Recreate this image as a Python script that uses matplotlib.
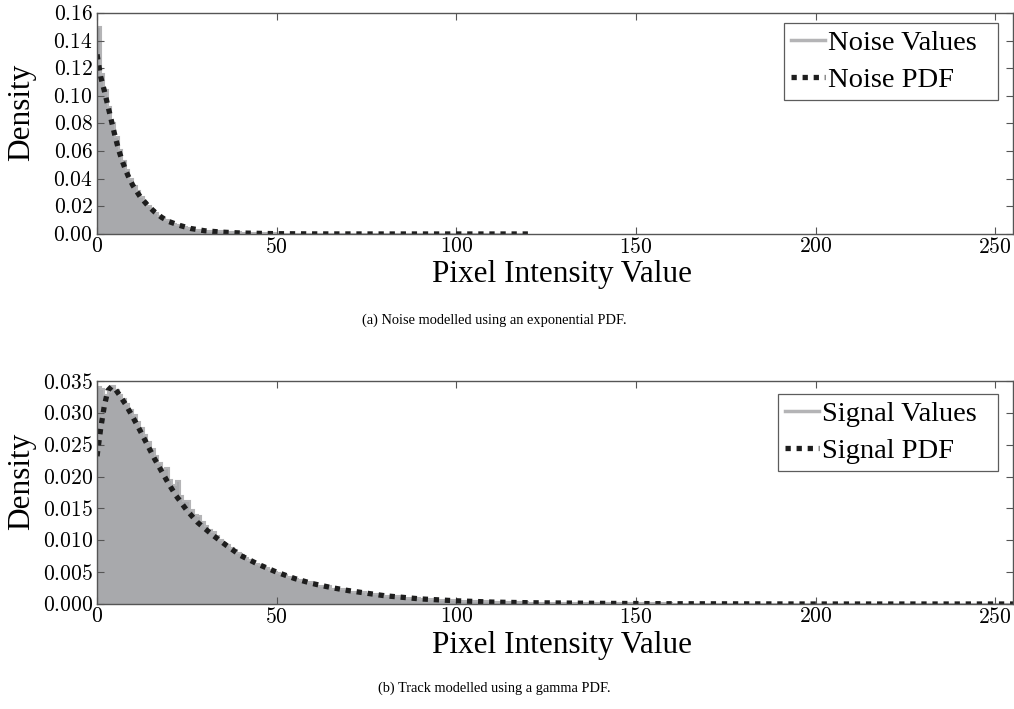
import numpy as np
import matplotlib
matplotlib.use("Agg")
from matplotlib import pyplot as plt
from matplotlib.lines import Line2D

# ---- noise (exponential) ----
noise_edges = [0, 1, 2, 3, 4, 5, 6, 7, 8, 9, 10, 11, 12, 13, 14, 15, 16, 17, 18, 19,
               20, 21, 22, 23, 24, 25, 26, 27, 28, 29, 30, 35, 40, 50, 60, 80, 120]
noise_hist = [0.150, 0.116, 0.104, 0.092, 0.080, 0.070, 0.061, 0.053, 0.046, 0.040,
              0.035, 0.031, 0.027, 0.023, 0.020, 0.0175, 0.015, 0.013, 0.0113, 0.0098,
              0.0085, 0.0075, 0.0065, 0.0057, 0.0050, 0.0043, 0.0037, 0.0032, 0.0028, 0.0024,
              0.0018, 0.0011, 0.0005, 0.0002, 0.00006, 0.00001]
noise_pdf_x = [0, 1, 2, 3, 4, 5, 6, 7, 8, 9, 10, 12, 14, 16, 18, 20, 23, 26, 30, 35,
               40, 50, 60, 80, 100, 120]
noise_pdf_y = [0.130, 0.114, 0.104, 0.093, 0.082, 0.071, 0.061, 0.053, 0.046, 0.040,
               0.035, 0.027, 0.021, 0.016, 0.012, 0.0090, 0.0062, 0.0040, 0.0023, 0.0013,
               0.0007, 0.0002, 0.00005, 0.0, 0.0, 0.0]

# ---- signal (gamma) ----
signal_edges = list(range(0, 61)) + [65, 70, 75, 80, 85, 90, 95, 100, 110, 120, 140, 160, 200, 255]
signal_hist = [0.0340, 0.0338, 0.0328, 0.0332, 0.0342, 0.0336, 0.0328, 0.0322, 0.0314, 0.0305,
               0.0296, 0.0286, 0.0276, 0.0265, 0.0254, 0.0243, 0.0233, 0.0222, 0.0212, 0.0214,
               0.0195, 0.0186, 0.0193, 0.0170, 0.0162, 0.0161, 0.0148, 0.0140, 0.0138, 0.0128,
               0.0122, 0.0116, 0.0113, 0.0106, 0.0101, 0.0096, 0.0093, 0.0088, 0.0084, 0.0080,
               0.0077, 0.0072, 0.0069, 0.0066, 0.0063, 0.0061, 0.0058, 0.0056, 0.0054, 0.0051,
               0.0049, 0.0047, 0.0045, 0.0043, 0.0041, 0.0040, 0.0038, 0.0036, 0.0035, 0.0034,
               0.0029, 0.0023, 0.0019, 0.0015, 0.0012, 0.0010, 0.0008, 0.0006,
               0.0004, 0.0003, 0.00015, 0.00008, 0.00003, 0.00001]
signal_pdf_x = [0, 1, 2, 3, 4, 5, 6, 8, 10, 12, 14, 16, 18, 20, 22, 25, 28, 32, 36, 40,
                45, 50, 55, 60, 65, 70, 75, 80, 90, 100, 110, 120, 140, 160, 200, 255]
signal_pdf_y = [0.0232, 0.0275, 0.0310, 0.0335, 0.0341, 0.0338, 0.0330, 0.0313, 0.0293, 0.0272,
                0.0250, 0.0228, 0.0208, 0.0188, 0.0170, 0.0147, 0.0128, 0.0109, 0.0092, 0.0076,
                0.0062, 0.0050, 0.0040, 0.0032, 0.0026, 0.0021, 0.0017, 0.0013, 0.0008, 0.0005,
                0.0003, 0.0002, 0.0001, 0.00004, 0.0, 0.0]

plt.rcParams['font.family'] = ['Liberation Serif', 'DejaVu Serif']
plt.rcParams['mathtext.fontset'] = 'cm'

fig = plt.figure(figsize=(10.14, 7.09), dpi=100)
ax1 = fig.add_axes([0.0957, 0.6700, 0.9034, 0.3117])
ax2 = fig.add_axes([0.0957, 0.1481, 0.9034, 0.3145])

hist_fill = '#a8a9ac'
hist_line = '#b4b4b6'
pdf_col = '#1e1e1e'
dots = (0, (1, 1.1))


def draw_panel(ax, edges, hist, px, py, ymax, yticks, fmt, names, leg_y):
    ax.stairs(hist, edges, fill=True, color=hist_fill, linewidth=0)
    ax.stairs(hist, edges, fill=False, color=hist_line, linewidth=1.5)
    ax.plot(px, py, color=pdf_col, linewidth=3.8, linestyle=dots, dash_capstyle='butt')
    ax.set_xlim(0, 255)
    ax.set_ylim(0, ymax)
    xt = [0, 50, 100, 150, 200, 250]
    ax.set_xticks(xt, ['$%d$' % t for t in xt])
    ax.set_yticks(yticks, ['$' + fmt % t + '$' for t in yticks])
    ax.tick_params(direction='in', top=True, right=True, length=5, width=0.8,
                   color='#555555', labelsize=15.5, pad=3)
    for sp in ax.spines.values():
        sp.set_color('#555555')
        sp.set_linewidth(1.0)
    ax.set_xlabel('Pixel Intensity Value', fontsize=22.5)
    ax.xaxis.set_label_coords(0.508, -0.12)
    ax.xaxis.label.set_va('top')
    ax.set_ylabel('Density', fontsize=22.5)
    ax.yaxis.set_label_coords(-0.066, 0.55)
    handles = [Line2D([], [], color=hist_line, linewidth=2.5),
               Line2D([], [], color=pdf_col, linewidth=3.8, linestyle=dots,
                      dash_capstyle='butt')]
    leg = ax.legend(handles, [n + '\u2002' for n in names], loc='upper right',
                    bbox_to_anchor=(0.9835, leg_y), fontsize=20.5, frameon=True,
                    fancybox=False, handlelength=1.2, handletextpad=0.1,
                    borderpad=0.25, labelspacing=0.4, borderaxespad=0.0)
    leg.get_frame().set_edgecolor('#333333')
    leg.get_frame().set_linewidth(0.9)


draw_panel(ax1, noise_edges, noise_hist, noise_pdf_x, noise_pdf_y, 0.16,
           [0.00, 0.02, 0.04, 0.06, 0.08, 0.10, 0.12, 0.14, 0.16], '%.2f',
           ['Noise Values', 'Noise PDF'], 0.955)
draw_panel(ax2, signal_edges, signal_hist, signal_pdf_x, signal_pdf_y, 0.035,
           [0.000, 0.005, 0.010, 0.015, 0.020, 0.025, 0.030, 0.035], '%.3f',
           ['Signal Values', 'Signal PDF'], 0.942)

fig.text(0.487, 1 - 320 / 709, '(a) Noise modelled using an exponential PDF.',
         ha='center', va='center', fontsize=10.4)
fig.text(0.487, 1 - 688 / 709, '(b) Track modelled using a gamma PDF.',
         ha='center', va='center', fontsize=10.4)

fig.savefig('out.png', dpi=100)
